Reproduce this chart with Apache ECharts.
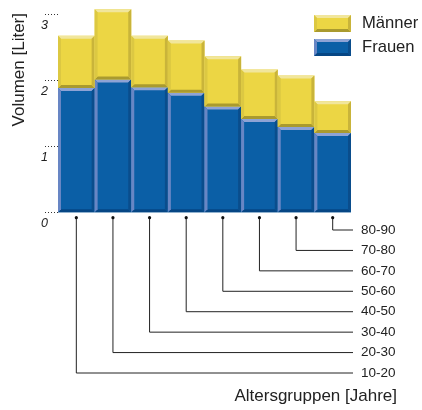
<!DOCTYPE html>
<html><head><meta charset="utf-8">
<script src="https://cdn.jsdelivr.net/npm/echarts@6/dist/echarts.min.js"></script>
<style>html,body{margin:0;padding:0;background:#fff}#c{width:422px;height:410px}</style>
</head><body><div id="c"></div>
<script>
const categories = ['10-20','20-30','30-40','40-50','50-60','60-70','70-80','80-90'];
const frauen = [1.88, 2.01, 1.89, 1.81, 1.60, 1.41, 1.29, 1.20];
const maenner = [0.79, 1.06, 0.78, 0.79, 0.76, 0.75, 0.78, 0.48];
const yTickLabels = ['0', '1', '2', '3'];

const BLUE = {main:'#0b5fa6', top:'#8ea3d5', left:'#6886c4', right:'#0a4d8c', bottom:'#064684'};
const YELLOW = {main:'#ecd644', top:'#f1e69c', left:'#dcc842', right:'#c9b43a', bottom:'#a99a2f'};
const B = 3;

function bevelShapes(x0, y0, x1, y1, pal) {
  const b = Math.min(B, (y1 - y0) / 2);
  return [
    {type:'rect', shape:{x:x0, y:y0, width:x1-x0, height:y1-y0}, style:{fill:pal.main}},
    {type:'polygon', shape:{points:[[x0,y0],[x1,y0],[x1-b,y0+b],[x0+b,y0+b]]}, style:{fill:pal.top}},
    {type:'polygon', shape:{points:[[x0,y1],[x1,y1],[x1-b,y1-b],[x0+b,y1-b]]}, style:{fill:pal.bottom}},
    {type:'polygon', shape:{points:[[x0,y0],[x0+b,y0+b],[x0+b,y1-b],[x0,y1]]}, style:{fill:pal.left}},
    {type:'polygon', shape:{points:[[x1,y0],[x1-b,y0+b],[x1-b,y1-b],[x1,y1]]}, style:{fill:pal.right}}
  ];
}
function bevelRender(pal) {
  return function (params, api) {
    const i = api.value(0);
    const pTop = api.coord([i, api.value(2)]);
    const pBot = api.coord([i, api.value(1)]);
    const w = api.size([1, 0])[0];
    return {type:'group', children: bevelShapes(pTop[0]-w/2, pTop[1], pTop[0]+w/2, pBot[1], pal)};
  };
}
function iconSvg(pal) {
  const w = 37, h = 17, b = 3;
  const s = `<svg xmlns="http://www.w3.org/2000/svg" width="${w}" height="${h}">` +
    `<rect x="0" y="0" width="${w}" height="${h}" fill="${pal.main}"/>` +
    `<polygon points="0,0 ${w},0 ${w-b},${b} ${b},${b}" fill="${pal.top}"/>` +
    `<polygon points="0,${h} ${w},${h} ${w-b},${h-b} ${b},${h-b}" fill="${pal.bottom}"/>` +
    `<polygon points="0,0 ${b},${b} ${b},${h-b} 0,${h}" fill="${pal.left}"/>` +
    `<polygon points="${w},0 ${w-b},${b} ${w-b},${h-b} ${w},${h}" fill="${pal.right}"/></svg>`;
  return 'image://data:image/svg+xml;charset=utf-8,' + encodeURIComponent(s);
}

const frauenData = categories.map((c, i) => [i, 0, frauen[i]]);
const maennerData = categories.map((c, i) => [i, frauen[i], frauen[i] + maenner[i]]);
const leaderData = categories.map((c, i) => [i, i]);

const chart = echarts.init(document.getElementById('c'), null, {renderer:'canvas'});
const FONT = 'Liberation Sans, Arial, Helvetica, sans-serif';
chart.setOption({
  animation: false,
  textStyle: {fontFamily: FONT},
  grid: [
    {left: 58, right: 71, top: 14, bottom: 197.7},
    {left: 58, right: 71, top: 230, height: 143}
  ],
  xAxis: [
    {type:'category', data: categories, gridIndex: 0, boundaryGap: true, show: false},
    {type:'category', data: categories, gridIndex: 1, boundaryGap: true, show: false}
  ],
  yAxis: [
    {type:'value', gridIndex: 0, min: 0, max: 3, interval: 1,
     axisLine:{show:false}, splitLine:{show:false},
     axisTick:{show:true, length:13, lineStyle:{type:[1,2], color:'#333', width:1}},
     axisLabel:{margin: 10, fontStyle:'italic', fontSize: 12.5, color:'#222', verticalAlign:'top', padding:[5,0,0,0],
       formatter: v => yTickLabels[Math.round(v)]}},
    {type:'category', gridIndex: 1, data: categories, boundaryGap: false, position: 'right',
     axisLine:{show:false}, axisTick:{show:false}, splitLine:{show:false},
     axisLabel:{margin: 10, fontSize: 13.5, color:'#222'}}
  ],
  legend: {
    orient: 'vertical', left: 314, top: 15, padding: 0, itemWidth: 37, itemHeight: 17, itemGap: 7,
    textStyle: {fontSize: 16.6, color: '#222', padding:[0,0,0,6]},
    data: [{name:'Männer', icon: iconSvg(YELLOW)}, {name:'Frauen', icon: iconSvg(BLUE)}],
    selectedMode: false
  },
  graphic: [
    {type:'text', left: 11, top: 13, rotation: Math.PI/2, style:{text:'Volumen [Liter]', fill:'#222', font: '17px ' + FONT}},
    {type:'text', right: 25, top: 388, style:{text:'Altersgruppen [Jahre]', fill:'#222', font: '17px ' + FONT}}
  ],
  series: [
    {name:'Frauen', type:'custom', xAxisIndex:0, yAxisIndex:0, data: frauenData, renderItem: bevelRender(BLUE),
     encode:{x:0, y:[1,2]}, itemStyle:{color: BLUE.main}, clip:false},
    {name:'Männer', type:'custom', xAxisIndex:0, yAxisIndex:0, data: maennerData, renderItem: bevelRender(YELLOW),
     encode:{x:0, y:[1,2]}, itemStyle:{color: YELLOW.main}, clip:false},
    {name:'leaders', type:'custom', xAxisIndex:1, yAxisIndex:1, data: leaderData, clip:false,
     encode:{x:0, y:1},
     renderItem: function (params, api) {
       const pt = api.coord([api.value(0), api.value(1)]);
       const r = params.coordSys;
       const dotY = r.y - 12.3;
       const endX = r.x + r.width + 2;
       return {type:'group', children:[
         {type:'polyline', shape:{points:[[pt[0], dotY],[pt[0], pt[1]],[endX, pt[1]]]}, style:{stroke:'#222', lineWidth:1, fill:null}},
         {type:'circle', shape:{cx: pt[0], cy: dotY, r: 1.6}, style:{fill:'#111'}}
       ]};
     }}
  ]
});
</script></body></html>
